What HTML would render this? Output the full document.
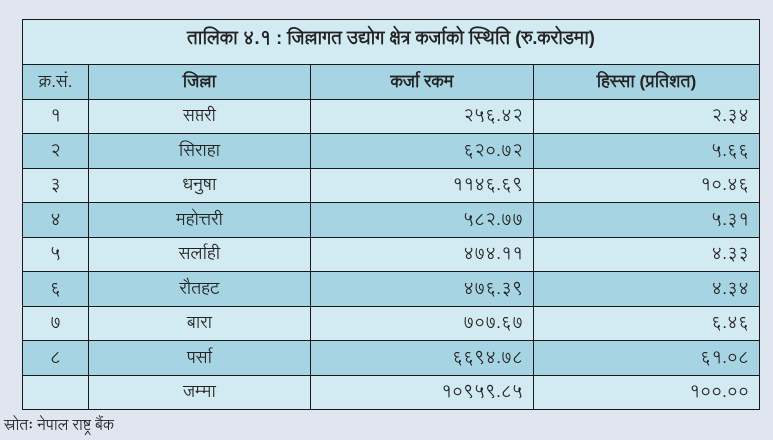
<!DOCTYPE html>
<html><head><meta charset="utf-8"><style>
body{margin:0;width:773px;height:440px;background:#dfe6f0;font-family:"Liberation Sans","Lohit Devanagari","Noto Sans Devanagari",sans-serif;position:relative;overflow:hidden}
table{position:absolute;left:22px;top:19px;border-collapse:collapse;width:738px}
td{border:1.5px solid #1a1a1a;padding:0;font-size:17px;color:#222;height:34.5px;line-height:20px;box-sizing:border-box}
.t td{height:45px;background:#d2ebf3;font-weight:bold;font-size:18px;text-align:center;padding-bottom:8px}
.l td{background:#d2ebf3}
.d td{background:#a7d4e2}
.h td{font-weight:bold;text-align:center}
.c{text-align:center}.r{text-align:right;padding-right:10px}
.src{position:absolute;left:4px;top:412px;font-size:15px;color:#222}
</style></head><body>
<table>
<tr class="t"><td colspan="4">तालिका ४.१ : जिल्लागत उद्योग क्षेत्र कर्जाको स्थिति (रु.करोडमा)</td></tr>
<tr class="d h"><td style="width:66px;font-weight:normal">क्र.सं.</td><td style="width:222px">जिल्ला</td><td style="width:223px">कर्जा रकम</td><td>हिस्सा (प्रतिशत)</td></tr>
<tr class="l"><td class="c">१</td><td class="c">सप्तरी</td><td class="r">२५६.४२</td><td class="r">२.३४</td></tr>
<tr class="d"><td class="c">२</td><td class="c">सिराहा</td><td class="r">६२०.७२</td><td class="r">५.६६</td></tr>
<tr class="l"><td class="c">३</td><td class="c">धनुषा</td><td class="r">११४६.६९</td><td class="r">१०.४६</td></tr>
<tr class="d"><td class="c">४</td><td class="c">महोत्तरी</td><td class="r">५८२.७७</td><td class="r">५.३१</td></tr>
<tr class="l"><td class="c">५</td><td class="c">सर्लाही</td><td class="r">४७४.११</td><td class="r">४.३३</td></tr>
<tr class="d"><td class="c">६</td><td class="c">रौतहट</td><td class="r">४७६.३९</td><td class="r">४.३४</td></tr>
<tr class="l"><td class="c">७</td><td class="c">बारा</td><td class="r">७०७.६७</td><td class="r">६.४६</td></tr>
<tr class="d"><td class="c">८</td><td class="c">पर्सा</td><td class="r">६६९४.७८</td><td class="r">६१.०८</td></tr>
<tr class="l"><td></td><td class="c">जम्मा</td><td class="r">१०९५९.८५</td><td class="r">१००.००</td></tr>
</table>
<div class="src">स्रोतः नेपाल राष्ट्र बैंक</div>
</body></html>
